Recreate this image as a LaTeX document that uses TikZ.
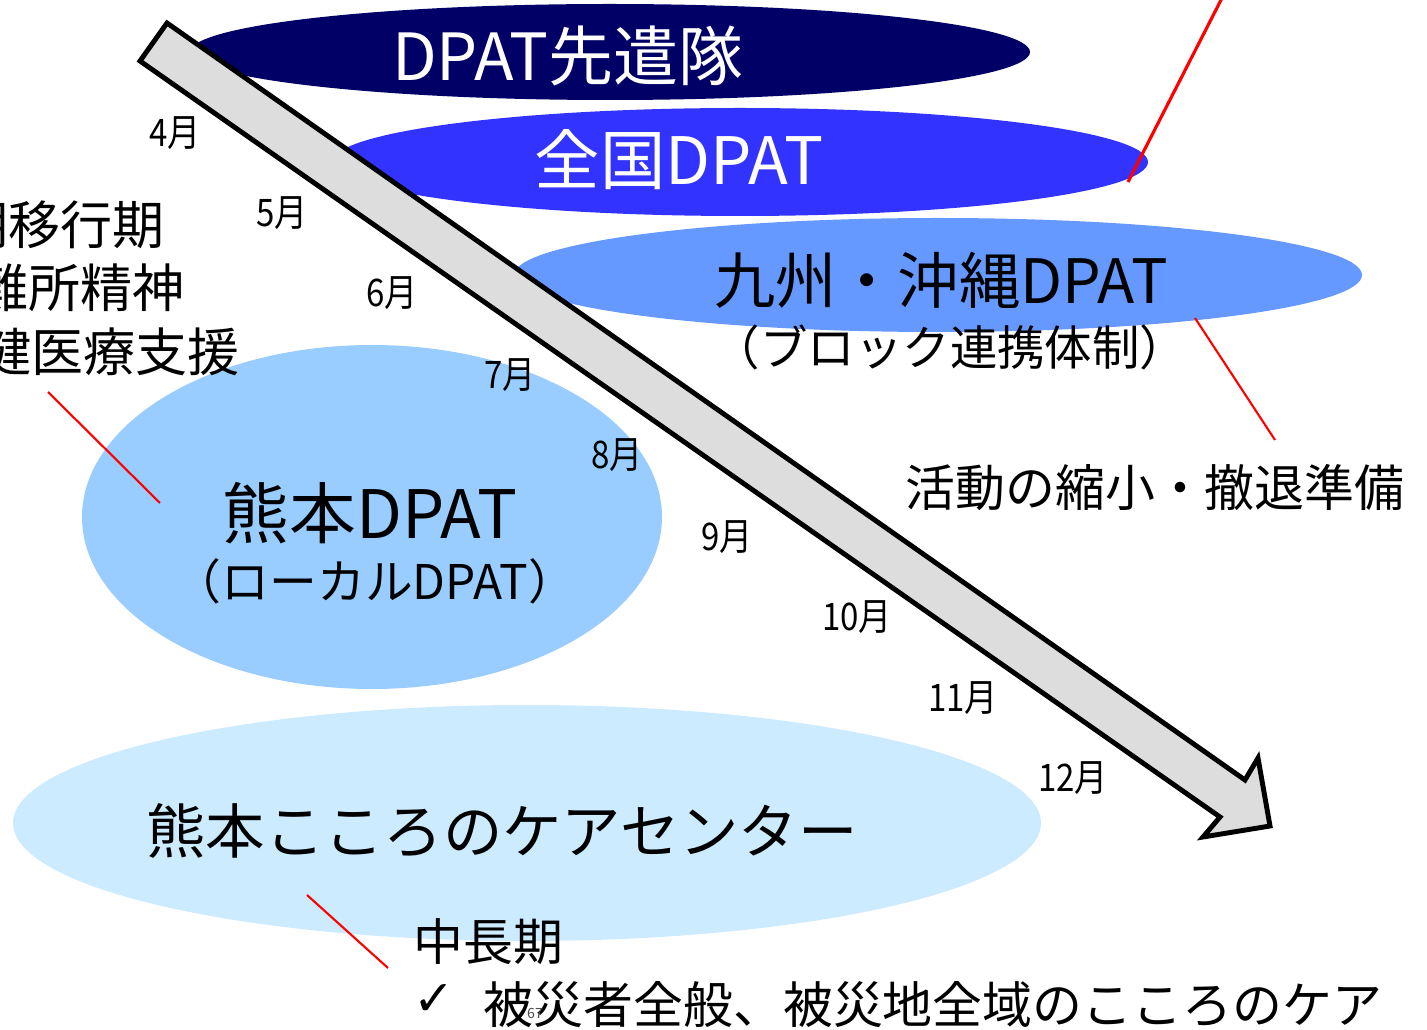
\documentclass[tikz,border=0pt]{standalone}
\usepackage{fontspec}
\setmainfont{Noto Sans CJK JP}
\newfontfamily\monthfont[FakeStretch=0.87]{Noto Sans CJK JP}
\newfontfamily\checkfont{DejaVu Sans}
\definecolor{sentaicol}{HTML}{000066}
\definecolor{zenkokucol}{HTML}{3333FF}
\definecolor{kyushucol}{HTML}{6699FF}
\definecolor{kumamotocol}{HTML}{99CCFF}
\definecolor{kokorocol}{HTML}{CCEBFF}
\definecolor{arrowcol}{HTML}{DDDDDD}
\tikzset{
  monthlabel/.style={font=\monthfont\fontsize{10.8}{12}\selectfont, inner sep=0pt},
  bigtitle/.style={font=\fontsize{18.5}{20}\selectfont, inner sep=0pt},
  subtitle/.style={font=\fontsize{13.5}{15}\selectfont, inner sep=0pt},
  plaintext/.style={font=\fontsize{14.2}{16}\selectfont, inner sep=0pt},
  redline/.style={red, line width=0.6pt},
}
\begin{document}
\begin{tikzpicture}[x=0.1mm, y=-0.1mm]
    \useasboundingbox (0, 0) rectangle (1427, 1030);
    \clip (0, 0) rectangle (1427, 1030);

    % ellipses
    \fill[sentaicol] (610, 52) ellipse [x radius=42mm, y radius=4.8mm];
    \fill[zenkokucol] (740, 162) ellipse [x radius=40.8mm, y radius=5.4mm];
    \fill[kyushucol] (938, 275) ellipse [x radius=42.4mm, y radius=5.7mm];
    \fill[kumamotocol] (372, 517) ellipse [x radius=29mm, y radius=17.2mm];
    \fill[kokorocol] (527, 823) ellipse [x radius=51.4mm, y radius=11.8mm];

    % timeline arrow
    \draw[line width=1.4pt, fill=arrowcol, line join=miter]
        (167, 23) -- (1245, 780) -- (1258, 758) -- (1270, 826)
        -- (1203, 837) -- (1220, 817) -- (140, 61) -- cycle;

    \node[bigtitle, text=white] (sentai) at (568, 56) {DPAT先遣隊};
    \node[bigtitle, text=white, font=\fontsize{18.6}{20}\selectfont] (zenkoku) at (679, 160) {全国DPAT};
    \node[bigtitle, font=\fontsize{17.4}{20}\selectfont] (kyushu) at (941, 280) {九州・沖縄DPAT};
    \node[subtitle] (block) at (950, 347) {（ブロック連携体制）};
    \node[bigtitle, font=\fontsize{19}{20}\selectfont] (kumamoto) at (370, 513) {熊本DPAT};
    \node[subtitle, font=\fontsize{13.6}{15}\selectfont] (local) at (375, 581) {（ローカルDPAT）};
    \node[bigtitle, font=\fontsize{16.9}{20}\selectfont] (kokoro) at (502, 831) {熊本こころのケアセンター};

    % phase texts
    \node[plaintext, font=\fontsize{14.8}{16}\selectfont, anchor=east] (ikou) at (165, 225) {中期移行期};
    \node[plaintext, font=\fontsize{14.8}{16}\selectfont, anchor=east] (hinan) at (185, 288) {避難所精神};
    \node[plaintext, font=\fontsize{14.8}{16}\selectfont, anchor=east] (hoken) at (240, 352) {保健医療支援};
    \node[plaintext] (tettai) at (1155, 488) {活動の縮小・撤退準備};
    \node[plaintext, anchor=west] (chuchoki) at (413, 942) {中長期};
    \node[plaintext, anchor=west, font=\checkfont\fontsize{14}{16}\selectfont] (check) at (413, 1000) {✓};
    \node[plaintext, anchor=west] (care) at (483, 1005) {被災者全般、被災地全域のこころのケア};
    \node[inner sep=0pt, font=\fontsize{4}{5}\selectfont, text=black!70] (page) at (535, 1013) {67};

    % months
    \node[monthlabel] (m4) at (175, 133) {4月};
    \node[monthlabel] (m5) at (282, 213) {5月};
    \node[monthlabel] (m6) at (392, 293) {6月};
    \node[monthlabel] (m7) at (510, 375) {7月};
    \node[monthlabel] (m8) at (617, 455) {8月};
    \node[monthlabel] (m9) at (727, 537) {9月};
    \node[monthlabel] (m10) at (857, 617) {10月};
    \node[monthlabel] (m11) at (963, 698) {11月};
    \node[monthlabel] (m12) at (1073, 778) {12月};

    % pointers
    \coordinate (topend) at (1222, -2);
    \coordinate (zenkokuend) at (1128, 182);
    \coordinate (kyushuend) at (1195, 318);
    \coordinate (tettaiend) at (1275, 440);
    \coordinate (hokenend) at (48, 392);
    \coordinate (kumamotoend) at (160, 503);
    \coordinate (kokoroend) at (307, 895);
    \coordinate (chuchokiend) at (388, 968);
    \draw[redline, line width=0.9pt] (topend) -- (zenkokuend);
    \draw[redline] (kyushuend) -- (tettaiend);
    \draw[redline] (hokenend) -- (kumamotoend);
    \draw[redline] (kokoroend) -- (chuchokiend);
\end{tikzpicture}
\end{document}
